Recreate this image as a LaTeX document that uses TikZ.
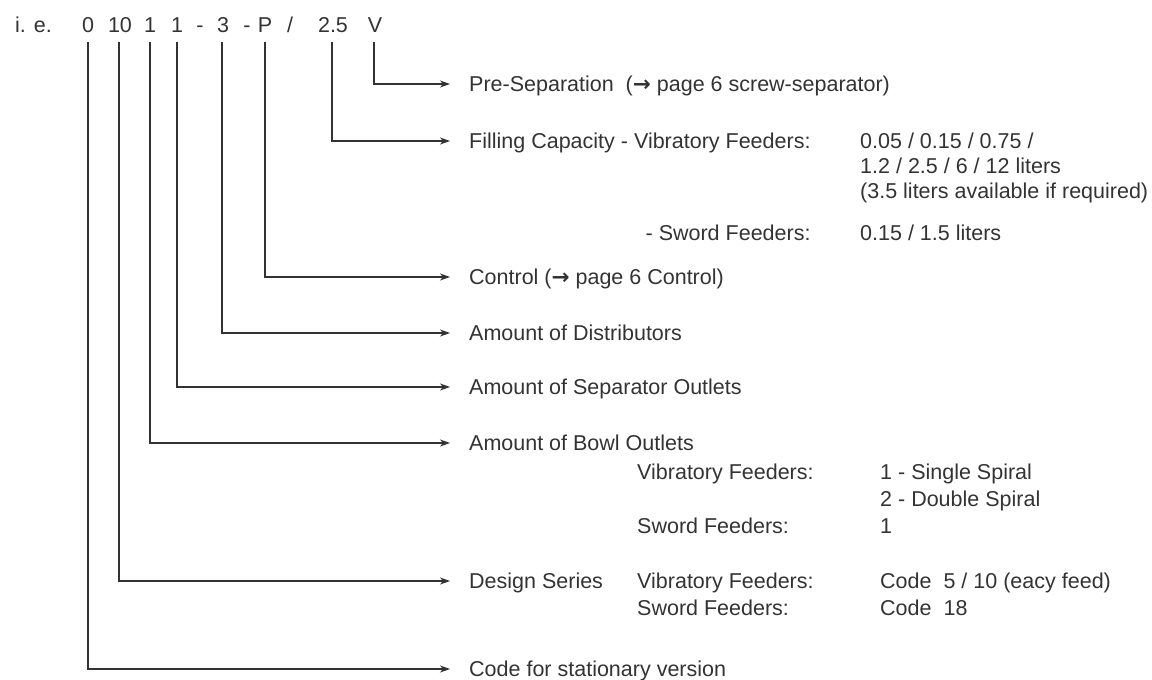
\documentclass[tikz,border=0pt]{standalone}
\usepackage{fontspec}
\setmainfont{Liberation Sans}
\newfontfamily\arrfont{DejaVu Sans}[Scale=1.0]
\usetikzlibrary{arrows.meta}
\definecolor{ink}{HTML}{333333}
\newcommand{\rarr}{{\arrfont\bfseries →}}
\tikzset{
  codech/.style={inner sep=0pt, anchor=base, text=ink, font=\fontsize{21.5}{25}\selectfont},
  lbl/.style={inner sep=0pt, anchor=west, text=ink, text height=15.4pt, text depth=0pt, font=\fontsize{21.5}{25}\selectfont},
  lble/.style={lbl, anchor=east},
  conn/.style={draw=ink, line width=1.1pt, -{Stealth[length=10pt,width=7pt,inset=3pt]}, shorten <=10pt, shorten >=19pt}
}
\begin{document}
\begin{tikzpicture}[x=1pt,y=-1pt]
\useasboundingbox (0,0) rectangle (1152,680);
% code line
\node[codech, anchor=base west] (ie) at (15,32) {i. e.};
\node[codech] (c0) at (88,32) {0};
\node[codech] (c10) at (120,32) {10};
\node[codech] (c1a) at (150,32) {1};
\node[codech] (c1b) at (177,32) {1};
\node[codech] (d1) at (200,32) {-};
\node[codech] (c3) at (223,32) {3};
\node[codech] (d2) at (247,32) {-};
\node[codech] (cP) at (265,32) {P};
\node[codech] (sl) at (290,32) {/};
\node[codech] (c25) at (333,32) {2.5};
\node[codech] (cV) at (375,32) {V};
% vertical-line top coordinates
\coordinate (v0) at (88,32);
\coordinate (v10) at (119,32);
\coordinate (v1a) at (150,32);
\coordinate (v1b) at (177,32);
\coordinate (v3) at (222,32);
\coordinate (vP) at (265,32);
\coordinate (v25) at (332,32);
\coordinate (vV) at (374,32);
% labels
\node[lbl] (tV) at (469,84) {Pre-Separation\ \ (\rarr\ page 6 screw-separator)};
\node[lbl] (t25) at (469,141) {Filling Capacity - Vibratory Feeders:};
\node[lbl] (f1) at (860,141) {0.05 / 0.15 / 0.75 /};
\node[lbl] (f2) at (860,166) {1.2 / 2.5 / 6 / 12 liters};
\node[lbl] (f3) at (860,191) {(3.5 liters available if required)};
\node[lble] (fs) at (t25.east |- 0,233) {- Sword Feeders:};
\node[lbl] (f4) at (860,233) {0.15 / 1.5 liters};
\node[lbl] (tP) at (469,277) {Control (\rarr\ page 6 Control)};
\node[lbl] (t3) at (469,333) {Amount of Distributors};
\node[lbl] (t1b) at (469,387) {Amount of Separator Outlets};
\node[lbl] (t1a) at (469,443) {Amount of Bowl Outlets};
\node[lbl] (b1) at (637,472) {Vibratory Feeders:};
\node[lbl] (b2) at (880,472) {1 - Single Spiral};
\node[lbl] (b3) at (880,499) {2 - Double Spiral};
\node[lbl] (b4) at (637,526) {Sword Feeders:};
\node[lbl] (b5) at (880,526) {1};
\node[lbl] (t10) at (469,581) {Design Series};
\node[lbl] (d1l) at (637,581) {Vibratory Feeders:};
\node[lbl] (d2l) at (880,581) {Code\hspace{12pt}5 / 10 (eacy feed)};
\node[lbl] (d3l) at (637,608) {Sword Feeders:};
\node[lbl] (d4l) at (880,608) {Code\hspace{12pt}18};
\node[lbl] (t0) at (469,669) {Code for stationary version};
% connectors
\draw[conn] (vV) |- (tV.west);
\draw[conn] (v25) |- (t25.west);
\draw[conn] (vP) |- (tP.west);
\draw[conn] (v3) |- (t3.west);
\draw[conn] (v1b) |- (t1b.west);
\draw[conn] (v1a) |- (t1a.west);
\draw[conn] (v10) |- (t10.west);
\draw[conn] (v0) |- (t0.west);
\end{tikzpicture}
\end{document}
